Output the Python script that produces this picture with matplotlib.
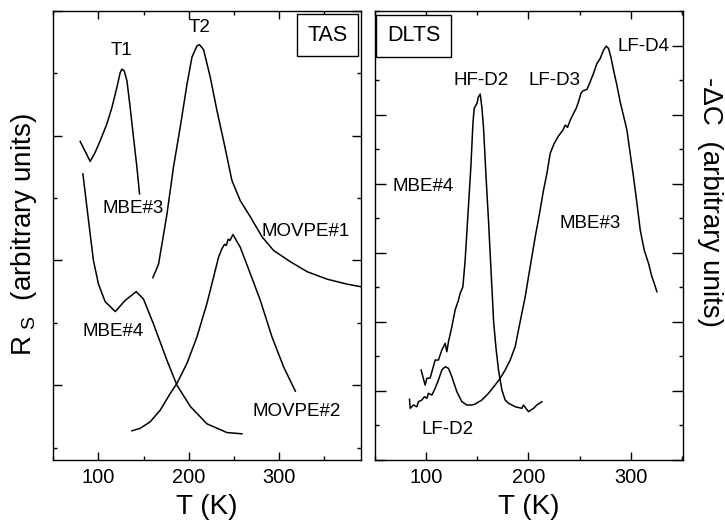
import matplotlib
matplotlib.use("Agg")
import matplotlib.pyplot as plt
from matplotlib.ticker import MultipleLocator

plt.rcParams['font.family'] = ['Liberation Sans', 'DejaVu Sans']
plt.rcParams['mathtext.fontset'] = 'custom'
plt.rcParams['mathtext.rm'] = 'Liberation Sans'

# ---------------- TAS panel data ----------------
mbe3_tas_T = [79.7, 90.8, 96.3, 101.9, 109.3, 114.9, 120.4, 124.1, 126.0, 128.6, 131.6, 135.2, 138.9, 142.7, 145.6]
mbe3_tas_R = [2.954, 2.794, 2.866, 2.96, 3.094, 3.226, 3.386, 3.506, 3.534, 3.52, 3.44, 3.226, 2.986, 2.746, 2.534]

mbe4_tas_T = [82.7, 87.1, 90.8, 94.4, 100.0, 107.4, 118.6, 129.7, 141.9, 150.0, 161.1, 176.0, 187.1, 201.9, 220.4, 242.7, 259.3]
mbe4_tas_R = [2.694, 2.43, 2.21, 2.0, 1.81, 1.67, 1.59, 1.68, 1.75, 1.69, 1.49, 1.2, 1.0, 0.83, 0.69, 0.62, 0.61]

movpe1_T = [160.4, 163.8, 166.7, 176.0, 183.3, 190.8, 198.2, 203.8, 209.3, 212.2, 216.7, 224.1, 231.6, 238.9,
            248.2, 257.4, 268.6, 281.6, 294.4, 313.0, 331.6, 353.8, 376.0, 391.0]
movpe1_R = [1.862, 1.92, 1.97, 2.37, 2.75, 3.07, 3.41, 3.63, 3.72, 3.73, 3.69, 3.47, 3.2, 2.96,
            2.64, 2.48, 2.35, 2.19, 2.08, 1.99, 1.91, 1.85, 1.81, 1.79]

movpe2_T = [137.1, 146.3, 157.4, 168.6, 179.7, 187.1, 198.2, 209.3, 220.4, 227.8, 233.3, 237.1, 240.0, 242.0,
            244.0, 246.0, 249.3, 257.4, 268.6, 279.7, 292.7, 305.6, 318.6]
movpe2_R = [0.634, 0.654, 0.706, 0.8, 0.934, 1.014, 1.174, 1.386, 1.654, 1.866, 2.026, 2.094, 2.13, 2.12,
            2.17, 2.16, 2.208, 2.106, 1.894, 1.68, 1.386, 1.146, 0.952]

# ---------------- DLTS panel data ----------------
mbe4_dlts_T = [95.1, 99.0, 100.7, 103.9, 108.8, 112.0, 115.3, 118.6, 120.2, 121.8, 125.1, 128.3, 131.6, 133.2,
               135.9, 138.1, 141.3, 143.7, 145.7, 146.9, 149.6, 151.1, 152.8, 154.4, 156.0, 158.7, 160.9,
               163.2, 165.2, 165.8, 168.1, 170.7, 174.0, 177.2, 180.5, 187.0, 193.5, 195.1, 200.0, 204.9,
               208.2, 213.1]
mbe4_dlts_C = [1.302, 1.085, 1.182, 1.187, 1.447, 1.447, 1.592, 1.689, 1.567, 1.712, 1.929, 2.171, 2.315, 2.412,
               2.508, 2.894, 3.666, 4.245, 4.873, 5.09, 5.162, 5.258, 5.297, 5.113, 4.823, 4.052, 3.473,
               2.797, 2.218, 2.026, 1.64, 1.302, 1.013, 0.868, 0.821, 0.771, 0.748, 0.796, 0.699, 0.748,
               0.796, 0.844]

mbe3_dlts_T = [83.7, 84.4, 87.6, 90.9, 92.5, 95.8, 98.3, 100.7, 102.2, 105.6, 108.8, 112.0, 115.3, 118.6,
               121.8, 125.1, 130.0, 134.9, 139.8, 144.7, 147.9, 154.4, 160.9, 167.4, 172.3, 177.2, 182.1,
               187.0, 190.2, 193.5, 196.8, 200.0, 203.3, 206.6, 210.8, 214.7, 218.0, 221.2, 225.1, 229.3,
               233.6, 235.9, 238.1, 240.8, 244.0, 246.6, 248.9, 251.2, 253.2, 257.1, 260.3, 263.5, 266.9,
               270.1, 273.3, 276.0, 278.2, 280.5, 283.1, 286.4, 289.6, 293.5, 296.2, 299.4, 302.6, 306.0,
               309.2, 313.1, 317.3, 320.6, 322.9, 325.5]
mbe3_dlts_C = [0.878, 0.748, 0.796, 0.771, 0.844, 0.868, 0.916, 0.893, 0.965, 0.941, 1.038, 1.158, 1.302, 1.35,
               1.327, 1.205, 0.988, 0.844, 0.796, 0.796, 0.81, 0.868, 0.965, 1.085, 1.182, 1.302, 1.447,
               1.64, 1.881, 2.123, 2.363, 2.653, 2.942, 3.232, 3.57, 3.907, 4.149, 4.438, 4.583, 4.689,
               4.776, 4.848, 4.815, 4.92, 5.017, 5.09, 5.185, 5.307, 5.344, 5.365, 5.475, 5.596, 5.741,
               5.813, 5.933, 5.991, 5.958, 5.836, 5.644, 5.427, 5.185, 4.945, 4.776, 4.438, 4.1, 3.715,
               3.329, 3.039, 2.847, 2.653, 2.557, 2.436]

xticks = [100, 200, 300]

fig = plt.figure(figsize=(7.25, 5.29), dpi=100)
axL = fig.add_axes([53 / 725, 69 / 529, 308 / 725, 449 / 529])
axR = fig.add_axes([375 / 725, 69 / 529, 308 / 725, 449 / 529])

lw = 1.1
for T, R in [(mbe3_tas_T, mbe3_tas_R), (mbe4_tas_T, mbe4_tas_R), (movpe1_T, movpe1_R), (movpe2_T, movpe2_R)]:
    axL.plot(T, R, color='black', lw=lw)
for T, C in [(mbe4_dlts_T, mbe4_dlts_C), (mbe3_dlts_T, mbe3_dlts_C)]:
    axR.plot(T, C, color='black', lw=lw)

axL.set_xlim(49.5, 391.5)
axL.set_ylim(0.4, 4.0)
axR.set_xlim(50, 351)
axR.set_ylim(0, 6.5)

for ax, ymaj_len in [(axL, 6.5), (axR, 8.0)]:
    ax.set_xticks(xticks)
    ax.xaxis.set_minor_locator(MultipleLocator(50))
    ax.yaxis.set_major_locator(MultipleLocator(1))
    ax.yaxis.set_minor_locator(MultipleLocator(0.5))
    ax.tick_params(which='both', direction='in', top=True, right=True, left=True, bottom=True,
                   width=1.0, colors='black')
    ax.tick_params(axis='x', which='major', length=6.0, labelsize=14.4, pad=6)
    ax.tick_params(axis='x', which='minor', length=3.0)
    ax.tick_params(axis='y', which='major', length=ymaj_len, labelleft=False)
    ax.tick_params(axis='y', which='minor', length=3.0)
    for s in ax.spines.values():
        s.set_linewidth(1.0)
    ax.set_xlabel('T (K)', fontsize=20, labelpad=5)

fs = 13.5
axL.text(126.0, 3.68, 'T1', fontsize=fs, ha='center', va='center')
axL.text(212.2, 3.87, 'T2', fontsize=fs, ha='center', va='center')
axL.text(138.0, 2.42, 'MBE#3', fontsize=fs, ha='center', va='center')
axL.text(330.0, 2.23, 'MOVPE#1', fontsize=fs, ha='center', va='center')
axL.text(116.7, 1.434, 'MBE#4', fontsize=fs, ha='center', va='center')
axL.text(320.0, 0.786, 'MOVPE#2', fontsize=fs, ha='center', va='center')

axR.text(153.6, 5.49, 'HF-D2', fontsize=fs, ha='center', va='center')
axR.text(225.3, 5.50, 'LF-D3', fontsize=fs, ha='center', va='center')
axR.text(312.1, 5.99, 'LF-D4', fontsize=fs, ha='center', va='center')
axR.text(97.4, 3.955, 'MBE#4', fontsize=fs, ha='center', va='center')
axR.text(260.3, 3.43, 'MBE#3', fontsize=fs, ha='center', va='center')
axR.text(121.0, 0.44, 'LF-D2', fontsize=fs, ha='center', va='center')

box = dict(boxstyle='square,pad=0.48', fc='white', ec='black', lw=1.0)
axL.text(0.892, 0.946, 'TAS', transform=axL.transAxes, fontsize=15.5, ha='center', va='center', bbox=box)
axR.text(0.125, 0.945, 'DLTS', transform=axR.transAxes, fontsize=15.5, ha='center', va='center', bbox=box)

fig.text(24 / 725, 1 - 235 / 529, r'R$_{\mathregular{\ S}}$  (arbitrary units)', fontsize=20,
         rotation=90, ha='center', va='center')
fig.text(710 / 725, 1 - 202 / 529, '-ΔC  (arbitrary units)', fontsize=20,
         rotation=270, ha='center', va='center')

fig.savefig('out.png', dpi=100)
